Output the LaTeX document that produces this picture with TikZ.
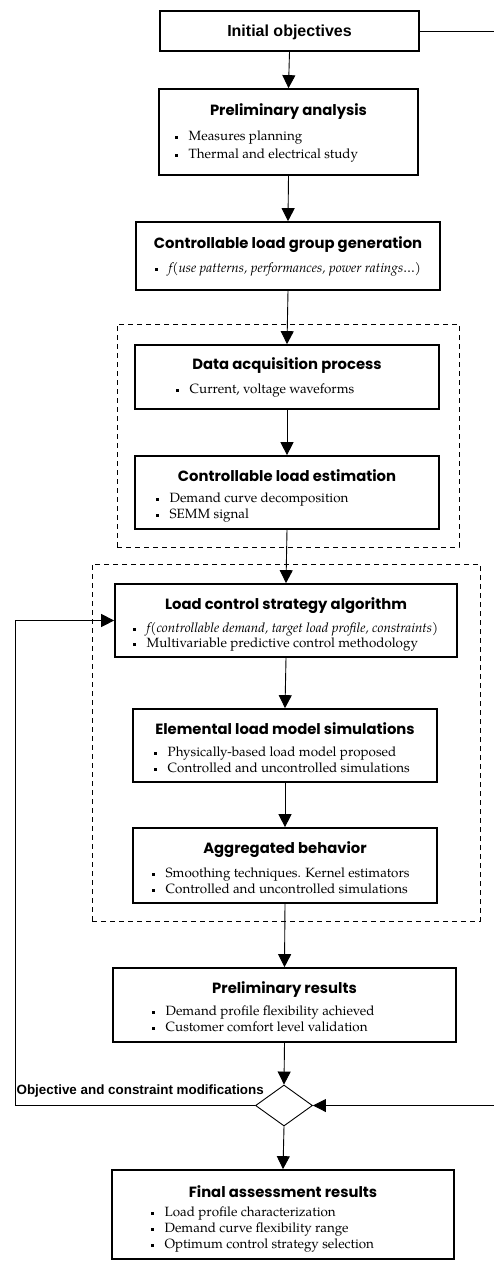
\documentclass[tikz,border=0pt]{standalone}
\usepackage{fontspec}
\setmainfont{TeX Gyre Pagella}
\newfontfamily\tfont{Poppins}
\newfontfamily\afont{Liberation Sans}
\usetikzlibrary{arrows.meta,shapes.geometric}
\newcommand\sqb{\makebox[13.5pt][l]{\rule[0.22ex]{3pt}{3pt}}}
\tikzset{
  box/.style={draw, rectangle, line width=1.7pt, inner sep=0pt},
  grp/.style={draw, rectangle, dashed, dash pattern=on 5pt off 4pt, line width=0.9pt, inner sep=0pt},
  ttl/.style={anchor=base, inner sep=0pt, font=\tfont\bfseries\fontsize{14.8}{17}\selectfont},
  atl/.style={anchor=base, inner sep=0pt, font=\afont\bfseries\fontsize{16}{18}\selectfont},
  lbl/.style={anchor=base east, inner sep=0pt, font=\afont\bfseries\fontsize{13.4}{16}\selectfont},
  bl/.style={anchor=base west, inner sep=0pt, font=\fontsize{13.4}{16}\selectfont},
  arr/.style={-{Triangle[length=13pt,width=13pt]}, line width=0.9pt},
  ln/.style={line width=0.9pt}
}
\begin{document}
\begin{tikzpicture}[x=1pt,y=-1pt]
\useasboundingbox (0,0) rectangle (494,1261);
% group frames
\node[grp, minimum width=342pt, minimum height=223pt] (g1) at (288,435.5) {};
\node[grp, minimum width=388pt, minimum height=357pt] (g2) at (286,742.5) {};
% boxes
\node[box, minimum width=259pt, minimum height=40pt] (init) at (289.5,31) {};
\node[box, minimum width=259pt, minimum height=86pt] (pa) at (288.5,132) {};
\node[box, minimum width=304pt, minimum height=68pt] (clg) at (288,256) {};
\node[box, minimum width=304pt, minimum height=64pt] (dap) at (287,377) {};
\node[box, minimum width=304pt, minimum height=73pt] (cle) at (287,492.5) {};
\node[box, minimum width=342pt, minimum height=73pt] (lcs) at (286,620.5) {};
\node[box, minimum width=304pt, minimum height=73pt] (elm) at (285,745.5) {};
\node[box, minimum width=304pt, minimum height=75pt] (agg) at (285,865.5) {};
\node[box, minimum width=343pt, minimum height=74pt] (pr) at (284.5,1005) {};
\node[draw, diamond, line width=0.9pt, inner sep=0pt, minimum width=57pt, minimum height=41pt] (dia) at (284,1105.5) {};
\node[box, minimum width=342pt, minimum height=89pt] (fin) at (283,1214.5) {};
% titles
\node[atl] (init-t) at (289.5,36) {Initial objectives};
\node[ttl] (pa-t) at (288.5,115) {Preliminary analysis};
\node[ttl] (clg-t) at (288,248) {Controllable load group generation};
\node[ttl] (dap-t) at (287,369) {Data acquisition process};
\node[ttl] (cle-t) at (287,481) {Controllable load estimation};
\node[ttl] (lcs-t) at (286,609) {Load control strategy algorithm};
\node[ttl] (elm-t) at (285,734) {Elemental load model simulations};
\node[ttl] (agg-t) at (285,853) {Aggregated behavior};
\node[ttl] (pr-t) at (284.5,993) {Preliminary results};
\node[ttl] (fin-t) at (283,1197) {Final assessment results};
% bullet lines
\node[bl] (pa1) at (175,140) {\sqb Measures planning};
\node[bl] (pa2) at (175,158) {\sqb Thermal and electrical study};
\node[bl] (clg1) at (155,272) {\sqb\itshape f(use patterns, performances, power ratings\ldots)};
\node[bl] (dap1) at (176,393) {\sqb Current, voltage waveforms};
\node[bl] (cle1) at (156,502) {\sqb Demand curve decomposition};
\node[bl] (cle2) at (156,518) {\sqb SEMM signal};
\node[bl] (lcs1) at (133,632) {\sqb\itshape f(controllable demand, target load profile, constraints)};
\node[bl] (lcs2) at (133,647) {\sqb Multivariable predictive control methodology};
\node[bl] (elm1) at (154,756) {\sqb Physically-based load model proposed};
\node[bl] (elm2) at (154,772) {\sqb Controlled and uncontrolled simulations};
\node[bl] (agg1) at (152,877) {\sqb Smoothing techniques. Kernel estimators};
\node[bl] (agg2) at (152,893) {\sqb Controlled and uncontrolled simulations};
\node[bl] (pr1) at (152,1015) {\sqb Demand profile flexibility achieved};
\node[bl] (pr2) at (152,1031) {\sqb Customer comfort level validation};
\node[bl] (fin1) at (151,1216) {\sqb Load profile characterization};
\node[bl] (fin2) at (151,1232) {\sqb Demand curve flexibility range};
\node[bl] (fin3) at (151,1248) {\sqb Optimum control strategy selection};
% label
\node[lbl] (mod) at (264,1094) {Objective and constraint modifications};
% connectors
\draw[arr] (init.south) -- (pa.north);
\draw[arr] (pa.south) -- (clg.north);
\draw[arr] (clg.south) -- (dap.north);
\draw[arr] (dap.south) -- (cle.north);
\draw[arr] (cle.south) -- (lcs.north);
\draw[arr] (lcs.south) -- (elm.north);
\draw[arr] (elm.south) -- (agg.north);
\draw[arr] (agg.south) -- (pr.north);
\draw[arr] (pr.south) -- (dia.north);
\draw[arr] (dia.south) -- (fin.north);
\coordinate (fb) at (15,1105.5);
\draw[arr] (dia.west) -- (fb) |- (lcs.west);
\coordinate (r1) at (494,31);
\draw[ln] (init.east) -- (r1);
\coordinate (r2) at (494,1105.5);
\draw[arr] (r2) -- (dia.east);
\end{tikzpicture}
\end{document}
